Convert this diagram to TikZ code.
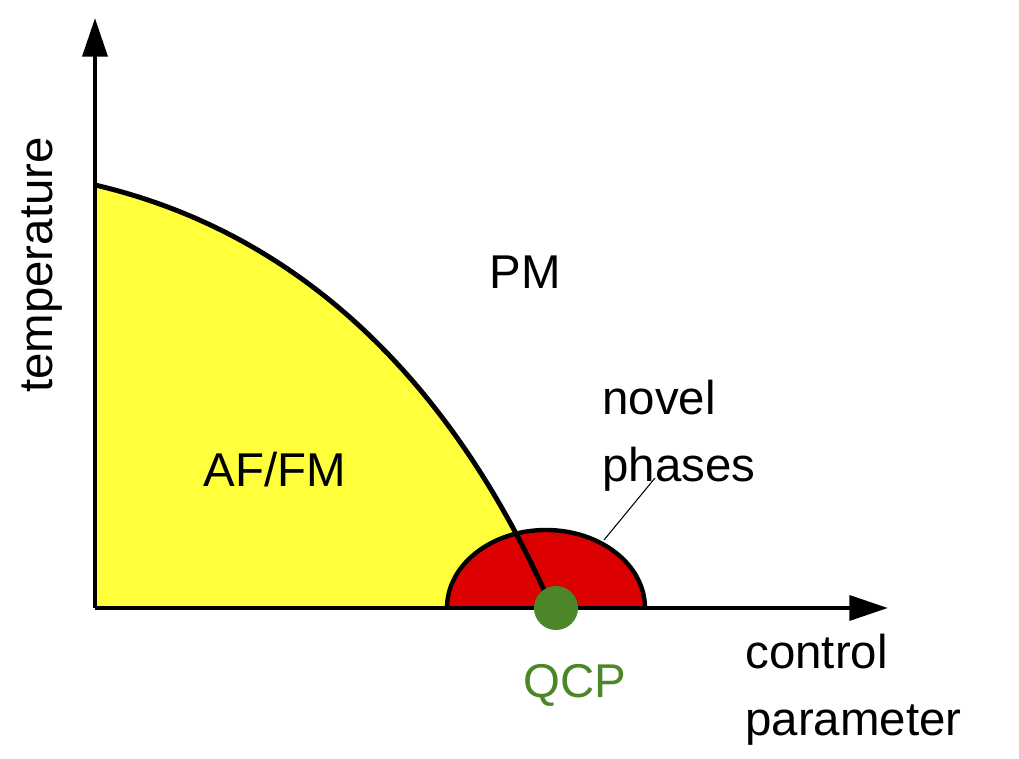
\documentclass[tikz,border=0pt]{standalone}
\usepackage{fontspec}
\setmainfont{Liberation Sans}
\usetikzlibrary{arrows.meta}
\definecolor{qcpgreen}{RGB}{75,135,40}
\definecolor{dyellow}{RGB}{255,255,60}
\definecolor{dred}{RGB}{220,0,0}
\tikzset{lbl/.style={font=\fontsize{27}{32}\selectfont, inner sep=0pt},
 axis/.style={line width=2.8pt,-{Triangle[length=22pt,width=14pt]}}}
\begin{document}
\begin{tikzpicture}[x=0.02cm,y=-0.02cm]
\useasboundingbox (0,0) rectangle (1019,759);
\coordinate (O) at (95,608);
\coordinate (top) at (95,185);
\coordinate (qcp) at (552,608);
\fill[dyellow] (O) -- (top) .. controls (330,240) and (470,420) .. (qcp) -- cycle;
\filldraw[fill=dred,draw=black,line width=2.5pt] (447,608) arc[start angle=180,end angle=0,x radius=99,y radius=-78];
\draw[line width=2.8pt] (top) .. controls (330,240) and (470,420) .. (qcp);
\draw[axis] (O) -- (95,18);
\draw[axis] (O) -- (888,608);
\fill[qcpgreen] (556,608) circle[radius=22];
\node[lbl] (pm) at (525,272) {PM};
\node[lbl] (af) at (275,470) {AF/FM};
\node[lbl,align=left,anchor=west] (nov) at (602,436) {novel\\[6pt]phases};
\coordinate (lead) at (604,540);
\draw[line width=0.6pt] (lead) -- (655,478);
\node[lbl,text=qcpgreen] (q) at (575,685) {QCP};
\node[lbl,align=left,anchor=west] (cp) at (745,690) {control\\[6pt]parameter};
\node[lbl,rotate=90] (t) at (42,265) {temperature};
\end{tikzpicture}
\end{document}
